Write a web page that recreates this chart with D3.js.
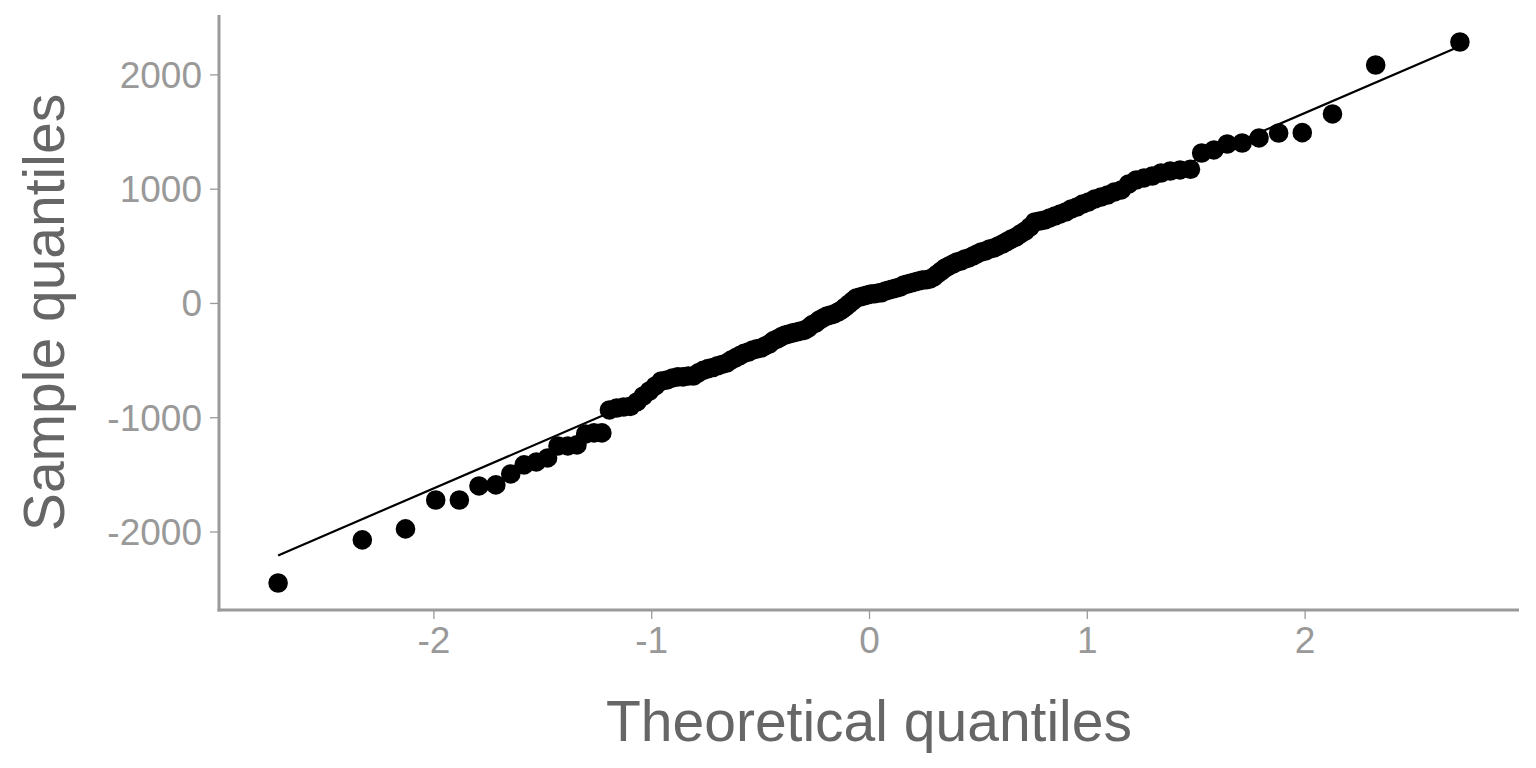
<!DOCTYPE html>
<html>
<head>
<meta charset="utf-8">
<script src="https://cdn.jsdelivr.net/npm/d3@7"></script>
<style>
  html, body { margin: 0; padding: 0; background: #ffffff; }
  svg { display: block; }
</style>
</head>
<body>
<svg id="chart" width="1536" height="768"></svg>
<script>
// Sorted sample values
const sampleQuantiles = [
  -2450,-2073,-1977,-1724,-1724,-1601,-1592,-1496,-1417,-1391,
  -1356,-1251,-1251,-1242,-1146,-1137,-1137,-936,-919,-910,
  -905,-866,-814,-770,-726,-683,-674,-656,-647,-647,
  -639,-639,-612,-590,-575,-565,-550,-538,-526,-500,
  -480,-460,-440,-429,-411,-402,-394,-376,-359,-332,
  -315,-297,-280,-271,-262,-254,-245,-240,-219,-192,
  -175,-149,-131,-114,-105,-96,-79,-61,-35,-9,
  17,44,52,61,70,79,80,87,90,105,
  114,122,131,140,157,166,175,184,192,201,
  203,210,227,254,280,306,324,341,359,367,
  385,394,411,429,446,455,472,481,499,516,
  538,560,577,604,630,665,709,717,726,744,
  761,779,796,822,840,866,884,910,927,945,
  971,989,1041,1076,1094,1111,1137,1155,1164,1170,
  1312,1339,1391,1400,1444,1487,1490,1654,2082,2283
];
const xTicks = [-2, -1, 0, 1, 2];
const yTicks = [-2000, -1000, 0, 1000, 2000];
const xTitle = "Theoretical quantiles";
const yTitle = "Sample quantiles";

// Inverse standard normal CDF (Acklam)
function qnorm(p) {
  const a = [-3.969683028665376e+01, 2.209460984245205e+02, -2.759285104469687e+02, 1.383577518672690e+02, -3.066479806614716e+01, 2.506628277459239e+00];
  const b = [-5.447609879822406e+01, 1.615858368580409e+02, -1.556989798598866e+02, 6.680131188771972e+01, -1.328068155288572e+01];
  const c = [-7.784894002430293e-03, -3.223964580411365e-01, -2.400758277161838e+00, -2.549732539343734e+00, 4.374664141464968e+00, 2.938163982698783e+00];
  const d = [7.784695709041462e-03, 3.224671290700398e-01, 2.445134137142996e+00, 3.754408661907416e+00];
  const pl = 0.02425, ph = 1 - pl;
  let q, r;
  if (p < pl) {
    q = Math.sqrt(-2 * Math.log(p));
    return (((((c[0]*q+c[1])*q+c[2])*q+c[3])*q+c[4])*q+c[5]) / ((((d[0]*q+d[1])*q+d[2])*q+d[3])*q+1);
  } else if (p <= ph) {
    q = p - 0.5; r = q*q;
    return (((((a[0]*r+a[1])*r+a[2])*r+a[3])*r+a[4])*r+a[5])*q / (((((b[0]*r+b[1])*r+b[2])*r+b[3])*r+b[4])*r+1);
  } else {
    q = Math.sqrt(-2 * Math.log(1 - p));
    return -(((((c[0]*q+c[1])*q+c[2])*q+c[3])*q+c[4])*q+c[5]) / ((((d[0]*q+d[1])*q+d[2])*q+d[3])*q+1);
  }
}

const n = sampleQuantiles.length;
const sorted = sampleQuantiles.slice().sort(d3.ascending);
const points = sorted.map((v, i) => ({ x: qnorm((i + 0.5) / n), y: v }));

// qq line through the 1st and 3rd quartiles
const q1 = d3.quantile(sorted, 0.25), q3 = d3.quantile(sorted, 0.75);
const z1 = qnorm(0.25), z3 = qnorm(0.75);
const slope = (q3 - q1) / (z3 - z1);
const intercept = q1 - slope * z1;
const xMin = d3.min(points, d => d.x), xMax = d3.max(points, d => d.x);
const linePts = [xMin, xMax].map(x => ({ x, y: intercept + slope * x }));

function expand(ext) { const r = ext[1] - ext[0]; return [ext[0] - 0.05 * r, ext[1] + 0.05 * r]; }
const yExt = d3.extent(points.map(d => d.y).concat(linePts.map(d => d.y)));

const panel = { left: 219, right: 1519, top: 15, bottom: 610 };
const x = d3.scaleLinear().domain(expand([xMin, xMax])).range([panel.left, panel.right]);
const y = d3.scaleLinear().domain(expand(yExt)).range([panel.bottom, panel.top]);

const svg = d3.select("#chart");
const axisColor = "#9a9a9a";
const labelColor = "#999999";
const titleColor = "#666666";
const font = "'Liberation Sans', Arial, Helvetica, sans-serif";
const fmt = d => String(d); // plain hyphen-minus like the reference

// qq line
svg.append("line")
  .attr("x1", x(linePts[0].x)).attr("y1", y(linePts[0].y))
  .attr("x2", x(linePts[1].x)).attr("y2", y(linePts[1].y))
  .attr("stroke", "#000").attr("stroke-width", 2.2);

// points
svg.append("g").selectAll("circle").data(points).join("circle")
  .attr("cx", d => x(d.x)).attr("cy", d => y(d.y))
  .attr("r", 9.8).attr("fill", "#000");

// axes
const xAxis = d3.axisBottom(x).tickValues(xTicks).tickSize(9).tickPadding(8).tickFormat(fmt);
const yAxis = d3.axisLeft(y).tickValues(yTicks).tickSize(9).tickPadding(8).tickFormat(fmt);

const gx = svg.append("g").attr("transform", `translate(0,${panel.bottom})`).call(xAxis);
const gy = svg.append("g").attr("transform", `translate(${panel.left},0)`).call(yAxis);
[gx, gy].forEach(g => {
  g.select(".domain").remove();
  g.selectAll(".tick line").attr("stroke", axisColor).attr("stroke-width", 1.3);
  g.selectAll(".tick text").attr("fill", labelColor).style("font-family", font).style("font-size", "37px");
});
gx.selectAll(".tick text").attr("dy", "0.71em");
gy.selectAll(".tick text").attr("dy", "0.35em");

// axis lines
svg.append("line").attr("x1", panel.left).attr("x2", panel.left)
  .attr("y1", panel.top).attr("y2", panel.bottom + 1.5)
  .attr("stroke", axisColor).attr("stroke-width", 3);
svg.append("line").attr("x1", panel.left - 1.5).attr("x2", panel.right)
  .attr("y1", panel.bottom).attr("y2", panel.bottom)
  .attr("stroke", axisColor).attr("stroke-width", 3);

// titles
svg.append("text")
  .attr("x", (panel.left + panel.right) / 2).attr("y", 741)
  .attr("text-anchor", "middle").attr("fill", titleColor)
  .style("font-family", font).style("font-size", "57px")
  .text(xTitle);
svg.append("text")
  .attr("transform", `translate(64,${(panel.top + panel.bottom) / 2}) rotate(-90)`)
  .attr("text-anchor", "middle").attr("fill", titleColor)
  .style("font-family", font).style("font-size", "57px")
  .text(yTitle);
</script>
</body>
</html>
